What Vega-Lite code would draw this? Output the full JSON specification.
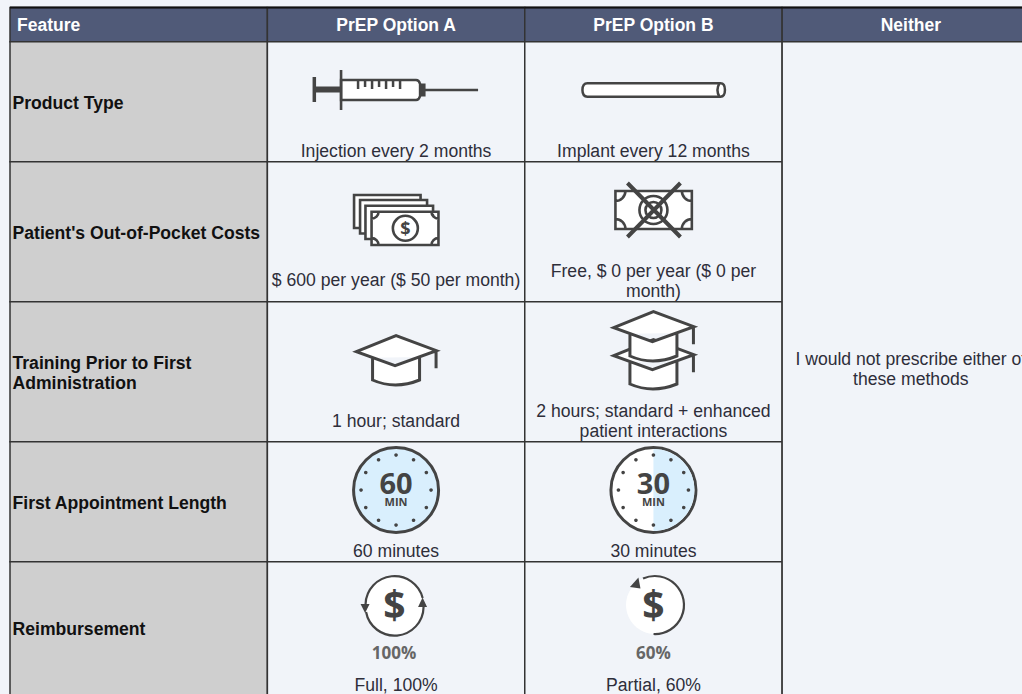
{
"$schema":"https://vega.github.io/schema/vega-lite/v6.json",
"width":1022,"height":694,"padding":0,"autosize":{"type":"none"},
"background":"#f1f4f9",
"config":{"view":{"stroke":null}},
"datasets":{
"cells":[
{"col":"Feature","kind":"header","rowTop":7.5,"rowBottom":41.7},
{"col":"PrEP Option A","kind":"header","rowTop":7.5,"rowBottom":41.7},
{"col":"PrEP Option B","kind":"header","rowTop":7.5,"rowBottom":41.7},
{"col":"Neither","kind":"header","rowTop":7.5,"rowBottom":41.7},
{"col":"Feature","kind":"feature","rowTop":41.7,"rowBottom":161.7},
{"col":"Feature","kind":"feature","rowTop":161.7,"rowBottom":301.7},
{"col":"Feature","kind":"feature","rowTop":301.7,"rowBottom":441.7},
{"col":"Feature","kind":"feature","rowTop":441.7,"rowBottom":561.7},
{"col":"Feature","kind":"feature","rowTop":561.7,"rowBottom":720},
{"col":"PrEP Option A","kind":"option","rowTop":41.7,"rowBottom":161.7},
{"col":"PrEP Option A","kind":"option","rowTop":161.7,"rowBottom":301.7},
{"col":"PrEP Option A","kind":"option","rowTop":301.7,"rowBottom":441.7},
{"col":"PrEP Option A","kind":"option","rowTop":441.7,"rowBottom":561.7},
{"col":"PrEP Option A","kind":"option","rowTop":561.7,"rowBottom":720},
{"col":"PrEP Option B","kind":"option","rowTop":41.7,"rowBottom":161.7},
{"col":"PrEP Option B","kind":"option","rowTop":161.7,"rowBottom":301.7},
{"col":"PrEP Option B","kind":"option","rowTop":301.7,"rowBottom":441.7},
{"col":"PrEP Option B","kind":"option","rowTop":441.7,"rowBottom":561.7},
{"col":"PrEP Option B","kind":"option","rowTop":561.7,"rowBottom":720},
{"col":"Neither","kind":"option","rowTop":41.7,"rowBottom":720}
],
"texts":[
{"role":"headL","col":"Feature","label":"Feature","textY":30.5},
{"role":"head","col":"PrEP Option A","label":"PrEP Option A","textY":30.5},
{"role":"head","col":"PrEP Option B","label":"PrEP Option B","textY":30.5},
{"role":"head","col":"Neither","label":"Neither","textY":30.5},
{"role":"feature","col":"Feature","label":"Product Type","textY":108.5},
{"role":"feature","col":"Feature","label":"Patient's Out-of-Pocket Costs","textY":238.5},
{"role":"feature","col":"Feature","label":"Training Prior to First\nAdministration","textY":368.5},
{"role":"feature","col":"Feature","label":"First Appointment Length","textY":508.5},
{"role":"feature","col":"Feature","label":"Reimbursement","textY":635},
{"role":"cell","col":"PrEP Option A","label":"Injection every 2 months","textY":156.7},
{"role":"cell","col":"PrEP Option B","label":"Implant every 12 months","textY":156.7},
{"role":"cell","col":"PrEP Option A","label":"$ 600 per year ($ 50 per month)","textY":286.2},
{"role":"cell","col":"PrEP Option B","label":"Free, $ 0 per year ($ 0 per\nmonth)","textY":276.7},
{"role":"cell","col":"PrEP Option A","label":"1 hour; standard","textY":426.7},
{"role":"cell","col":"PrEP Option B","label":"2 hours; standard + enhanced\npatient interactions","textY":416.7},
{"role":"cell","col":"PrEP Option A","label":"60 minutes","textY":556.7},
{"role":"cell","col":"PrEP Option B","label":"30 minutes","textY":556.7},
{"role":"cell","col":"PrEP Option A","label":"Full, 100%","textY":690.7},
{"role":"cell","col":"PrEP Option B","label":"Partial, 60%","textY":690.7},
{"role":"cell","col":"Neither","label":"I would not prescribe either of\nthese methods","textY":364.7},
{"role":"clockNum","col":"PrEP Option A","label":"60","textY":493.5},
{"role":"clockNum","col":"PrEP Option B","label":"30","textY":493.5},
{"role":"clockMin","col":"PrEP Option A","label":"MIN","textY":506},
{"role":"clockMin","col":"PrEP Option B","label":"MIN","textY":506},
{"role":"dollarA","col":"PrEP Option A","label":"$","textY":619},
{"role":"dollarB","col":"PrEP Option B","label":"$","textY":619},
{"role":"pctA","col":"PrEP Option A","label":"100%","textY":659},
{"role":"pctB","col":"PrEP Option B","label":"60%","textY":659},
{"role":"billDollar","col":"PrEP Option A","label":"$","textY":234.5}
],
"icons":[
{"icon":"syringe","col":"PrEP Option A","cy":90},
{"icon":"implant","col":"PrEP Option B","cy":90},
{"icon":"bills","col":"PrEP Option A","cy":220},
{"icon":"noBill","col":"PrEP Option B","cy":210},
{"icon":"cap","col":"PrEP Option A","cy":360},
{"icon":"cap","col":"PrEP Option B","cy":364},
{"icon":"cap","col":"PrEP Option B","cy":336},
{"icon":"clockFull","col":"PrEP Option A","cy":490},
{"icon":"clockHalf","col":"PrEP Option B","cy":490},
{"icon":"cycleFull","col":"PrEP Option A","cy":605},
{"icon":"cyclePart","col":"PrEP Option B","cy":605}
]
},
"encoding":{
"x":{"field":"col","type":"nominal","axis":null,"scale":{"type":"band","domain":["Feature","PrEP Option A","PrEP Option B","Neither"],"range":[10,1039.5],"paddingInner":0,"paddingOuter":0}},
"y":{"field":"cy","type":"quantitative","axis":null,"scale":{"domain":[0,694],"range":[0,694]}}
},
"layer":[
{"data":{"name":"cells"},"mark":{"type":"rect","stroke":"#333","strokeWidth":1.5},
 "encoding":{"y":{"field":"rowTop","type":"quantitative"},"y2":{"field":"rowBottom"},
 "color":{"field":"kind","type":"nominal","legend":null,"scale":{"domain":["header","feature","option"],"range":["#505a78","#cfcfcf","#f1f4f9"]}}}},
{"data":{"name":"cells"},"transform":[{"filter":"datum.kind==='header'"}],"mark":{"type":"rect","stroke":"#111","strokeWidth":2,"fill":"#111"},
 "encoding":{"y":{"field":"rowTop","type":"quantitative"},"y2":{"field":"rowTop"}}},

{"data":{"name":"texts"},"transform":[{"filter":"datum.role==='headL'"}],"mark":{"type":"text","align":"left","baseline":"alphabetic","dx":7,"font":"Liberation Sans","fontWeight":"bold","fontSize":17.5,"fill":"#fff"},
 "encoding":{"x":{"field":"col","type":"nominal","bandPosition":0},"y":{"field":"textY","type":"quantitative"},"text":{"field":"label"}}},
{"data":{"name":"texts"},"transform":[{"filter":"datum.role==='head'"}],"mark":{"type":"text","align":"center","baseline":"alphabetic","font":"Liberation Sans","fontWeight":"bold","fontSize":17.5,"fill":"#fff"},
 "encoding":{"y":{"field":"textY","type":"quantitative"},"text":{"field":"label"}}},
{"data":{"name":"texts"},"transform":[{"filter":"datum.role==='feature'"}],"mark":{"type":"text","align":"left","baseline":"alphabetic","dx":2.5,"font":"Liberation Sans","fontWeight":"bold","fontSize":17.6,"fill":"#111","lineBreak":"\n","lineHeight":20},
 "encoding":{"x":{"field":"col","type":"nominal","bandPosition":0},"y":{"field":"textY","type":"quantitative"},"text":{"field":"label"}}},
{"data":{"name":"texts"},"transform":[{"filter":"datum.role==='cell'"}],"mark":{"type":"text","align":"center","baseline":"alphabetic","font":"Liberation Sans","fontSize":17.6,"fill":"#2e2e3a","lineBreak":"\n","lineHeight":20},
 "encoding":{"y":{"field":"textY","type":"quantitative"},"text":{"field":"label"}}},

{"data":{"name":"icons"},"transform":[{"filter":"datum.icon==='syringe'"}],"mark":{"type":"point","size":4,"opacity":1,"filled":true,"fill":"#fff","stroke":"#444","strokeWidth":2.5,"shape":"M-55 -10 H20 Q23 -10 24 -6 V6 Q23 10 20 10 H-55 Z M-38 -10 V-1 M-31 -10 V-3 M-24 -10 V-1 M-17 -10 V-3 M-10 -10 V-1 M-3 -10 V-3 M4 -10 V-1"},
 "encoding":{"y":{"field":"cy","type":"quantitative"}}},
{"data":{"name":"icons"},"transform":[{"filter":"datum.icon==='syringe'"}],"mark":{"type":"point","size":4,"opacity":1,"filled":true,"fill":"#444","strokeWidth":0,"shape":"M-83.5 -13 H-80 V12 H-83.5 Z M-81 -3.5 H-55 V2.5 H-81 Z M-56.3 -20 H-53.7 V20 H-56.3 Z M23 -6.5 H29.5 V6.5 H23 Z M29 -1.2 H82 V1.2 H29 Z"},
 "encoding":{"y":{"field":"cy","type":"quantitative"}}},
{"data":{"name":"icons"},"transform":[{"filter":"datum.icon==='implant'"}],"mark":{"type":"point","size":4,"opacity":1,"filled":true,"fill":"#fff","stroke":"#444","strokeWidth":2.5,"shape":"M-66 -6.7 H67 Q71.5 -6.7 71.5 0 Q71.5 6.7 67 6.7 H-66 Q-71 6.7 -71 0 Q-71 -6.7 -66 -6.7 Z M66 -6.7 Q62 0 66 6.7"},
 "encoding":{"y":{"field":"cy","type":"quantitative"}}},

{"data":{"name":"icons"},"transform":[{"filter":"datum.icon==='bills'"}],"mark":{"type":"point","size":4,"opacity":1,"filled":true,"fill":"#fff","stroke":"#444","strokeWidth":2.6,"shape":"M-42 -25 H24.5 V8 H-42 Z"},
 "encoding":{"y":{"field":"cy","type":"quantitative"}}},
{"data":{"name":"icons"},"transform":[{"filter":"datum.icon==='bills'"}],"mark":{"type":"point","size":4,"opacity":1,"filled":true,"fill":"#fff","stroke":"#444","strokeWidth":2.6,"shape":"M-36 -20 H31 V13.5 H-36 Z"},
 "encoding":{"y":{"field":"cy","type":"quantitative"}}},
{"data":{"name":"icons"},"transform":[{"filter":"datum.icon==='bills'"}],"mark":{"type":"point","size":4,"opacity":1,"filled":true,"fill":"#fff","stroke":"#444","strokeWidth":2.6,"shape":"M-30.6 -14.3 H37 V19 H-30.6 Z"},
 "encoding":{"y":{"field":"cy","type":"quantitative"}}},
{"data":{"name":"icons"},"transform":[{"filter":"datum.icon==='bills'"}],"mark":{"type":"point","size":4,"opacity":1,"filled":true,"fill":"#fff","stroke":"#444","strokeWidth":2.6,"shape":"M-24.5 -8.3 H42.4 V25 H-24.5 Z M-24.5 -1.3 A7 7 0 0 0 -17.5 -8.3 M35.4 -8.3 A7 7 0 0 0 42.4 -1.3 M42.4 18 A7 7 0 0 0 35.4 25 M-17.5 25 A7 7 0 0 0 -24.5 18 M-3.2 8.3 A12.5 12.5 0 1 1 21.8 8.3 A12.5 12.5 0 1 1 -3.2 8.3 Z"},
 "encoding":{"y":{"field":"cy","type":"quantitative"}}},
{"data":{"name":"texts"},"transform":[{"filter":"datum.role==='billDollar'"}],"mark":{"type":"text","align":"center","baseline":"alphabetic","dx":9.3,"font":"Open Sans","fontWeight":"bold","fontSize":18,"fill":"#444"},
 "encoding":{"y":{"field":"textY","type":"quantitative"},"text":{"field":"label"}}},

{"data":{"name":"icons"},"transform":[{"filter":"datum.icon==='noBill'"}],"mark":{"type":"point","size":4,"opacity":1,"filled":true,"fill":"#fff","stroke":"#444","strokeWidth":2.6,"shape":"M-38 -19 H38.4 V19 H-38 Z M-38 -9 A10 10 0 0 0 -28 -19 M28.4 -19 A10 10 0 0 0 38.4 -9 M38.4 9 A10 10 0 0 0 28.4 19 M-28 19 A10 10 0 0 0 -38 9 M-14 0 A14 14 0 1 1 14 0 A14 14 0 1 1 -14 0 Z M-8 0 A8 8 0 1 1 8 0 A8 8 0 1 1 -8 0 Z"},
 "encoding":{"y":{"field":"cy","type":"quantitative"}}},
{"data":{"name":"icons"},"transform":[{"filter":"datum.icon==='noBill'"}],"mark":{"type":"point","size":4,"opacity":1,"filled":false,"stroke":"#444","strokeWidth":4,"shape":"M-26 -27 L27 27 M-26 27 L27 -27"},
 "encoding":{"y":{"field":"cy","type":"quantitative"}}},

{"data":{"name":"icons"},"transform":[{"filter":"datum.icon==='cap'"}],"mark":{"type":"point","size":4,"opacity":1,"filled":true,"fill":"#fff","stroke":"#444","strokeWidth":3,"shape":"M-23.5 -2.3 V20 Q-1 30 23.5 20 V-3 M-39.7 -8.3 L0 -24.3 L40.4 -9.3 L-1 5.7 Z M40 -9 V8.3"},
 "encoding":{"y":{"field":"cy","type":"quantitative"}}},

{"data":{"name":"icons"},"transform":[{"filter":"datum.icon==='clockFull'"}],"mark":{"type":"point","size":4,"opacity":1,"filled":true,"fill":"#d9effd","stroke":"#444","strokeWidth":3,"shape":"M-42.5 0 A42.5 42.5 0 1 1 42.5 0 A42.5 42.5 0 1 1 -42.5 0 Z"},
 "encoding":{"y":{"field":"cy","type":"quantitative"}}},
{"data":{"name":"icons"},"transform":[{"filter":"datum.icon==='clockHalf'"}],"mark":{"type":"point","size":4,"opacity":1,"filled":true,"fill":"#fff","stroke":"#444","strokeWidth":3,"shape":"M-42.5 0 A42.5 42.5 0 1 1 42.5 0 A42.5 42.5 0 1 1 -42.5 0 Z"},
 "encoding":{"y":{"field":"cy","type":"quantitative"}}},
{"data":{"name":"icons"},"transform":[{"filter":"datum.icon==='clockHalf'"}],"mark":{"type":"point","size":4,"opacity":1,"filled":true,"fill":"#d9effd","strokeWidth":0,"shape":"M0 -41 A41 41 0 0 1 0 41 Z"},
 "encoding":{"y":{"field":"cy","type":"quantitative"}}},
{"data":{"name":"icons"},"transform":[{"filter":"datum.icon==='clockFull' || datum.icon==='clockHalf'"}],"mark":{"type":"point","size":4,"opacity":1,"filled":true,"fill":"#444","strokeWidth":0,"shape":"M-1.8 -35 a1.8 1.8 0 1 0 3.6 0 a1.8 1.8 0 1 0 -3.6 0 M15.7 -30.3 a1.8 1.8 0 1 0 3.6 0 a1.8 1.8 0 1 0 -3.6 0 M28.5 -17.5 a1.8 1.8 0 1 0 3.6 0 a1.8 1.8 0 1 0 -3.6 0 M33.2 0 a1.8 1.8 0 1 0 3.6 0 a1.8 1.8 0 1 0 -3.6 0 M28.5 17.5 a1.8 1.8 0 1 0 3.6 0 a1.8 1.8 0 1 0 -3.6 0 M15.7 30.3 a1.8 1.8 0 1 0 3.6 0 a1.8 1.8 0 1 0 -3.6 0 M-1.8 35 a1.8 1.8 0 1 0 3.6 0 a1.8 1.8 0 1 0 -3.6 0 M-19.3 30.3 a1.8 1.8 0 1 0 3.6 0 a1.8 1.8 0 1 0 -3.6 0 M-32.1 17.5 a1.8 1.8 0 1 0 3.6 0 a1.8 1.8 0 1 0 -3.6 0 M-36.8 0 a1.8 1.8 0 1 0 3.6 0 a1.8 1.8 0 1 0 -3.6 0 M-32.1 -17.5 a1.8 1.8 0 1 0 3.6 0 a1.8 1.8 0 1 0 -3.6 0 M-19.3 -30.3 a1.8 1.8 0 1 0 3.6 0 a1.8 1.8 0 1 0 -3.6 0"},
 "encoding":{"y":{"field":"cy","type":"quantitative"}}},
{"data":{"name":"texts"},"transform":[{"filter":"datum.role==='clockNum'"}],"mark":{"type":"text","align":"center","baseline":"alphabetic","font":"Open Sans","fontWeight":"bold","fontSize":29,"fill":"#444"},
 "encoding":{"y":{"field":"textY","type":"quantitative"},"text":{"field":"label"}}},
{"data":{"name":"texts"},"transform":[{"filter":"datum.role==='clockMin'"}],"mark":{"type":"text","align":"center","baseline":"alphabetic","font":"Open Sans","fontWeight":"bold","fontSize":11,"fill":"#444"},
 "encoding":{"y":{"field":"textY","type":"quantitative"},"text":{"field":"label"}}},

{"data":{"name":"icons"},"transform":[{"filter":"datum.icon==='cycleFull'"}],"mark":{"type":"point","size":4,"opacity":1,"filled":true,"fill":"#fff","strokeWidth":0,"shape":"M-30.5 0 A29 29 0 1 1 27.5 0 A29 29 0 1 1 -30.5 0 Z"},
 "encoding":{"y":{"field":"cy","type":"quantitative"}}},
{"data":{"name":"icons"},"transform":[{"filter":"datum.icon==='cycleFull'"}],"mark":{"type":"point","size":4,"opacity":1,"filled":false,"stroke":"#444","strokeWidth":2.2,"shape":"M-30.5 -1 A29 29 0 0 1 26.6 -7 M27.5 2 A29 29 0 0 1 -30 7"},
 "encoding":{"y":{"field":"cy","type":"quantitative"}}},
{"data":{"name":"icons"},"transform":[{"filter":"datum.icon==='cycleFull'"}],"mark":{"type":"point","size":4,"opacity":1,"filled":true,"fill":"#444","strokeWidth":0,"shape":"M22 2 L26.5 -7.5 L31 2 Z M-35.5 -1 L-26.5 -1 L-31 8 Z"},
 "encoding":{"y":{"field":"cy","type":"quantitative"}}},
{"data":{"name":"icons"},"transform":[{"filter":"datum.icon==='cyclePart'"}],"mark":{"type":"point","size":4,"opacity":1,"filled":true,"fill":"#fff","strokeWidth":0,"shape":"M-27.4 0 A29 29 0 1 1 30.6 0 A29 29 0 1 1 -27.4 0 Z"},
 "encoding":{"y":{"field":"cy","type":"quantitative"}}},
{"data":{"name":"icons"},"transform":[{"filter":"datum.icon==='cyclePart'"}],"mark":{"type":"point","size":4,"opacity":1,"filled":false,"stroke":"#444","strokeWidth":2.2,"shape":"M-10.4 -26.4 A29 29 0 1 1 0.1 29"},
 "encoding":{"y":{"field":"cy","type":"quantitative"}}},
{"data":{"name":"icons"},"transform":[{"filter":"datum.icon==='cyclePart'"}],"mark":{"type":"point","size":4,"opacity":1,"filled":true,"fill":"#444","strokeWidth":0,"shape":"M-23.5 -18 L-15 -27.5 L-13 -16.5 Z"},
 "encoding":{"y":{"field":"cy","type":"quantitative"}}},
{"data":{"name":"texts"},"transform":[{"filter":"datum.role==='dollarA'"}],"mark":{"type":"text","align":"center","baseline":"alphabetic","dx":-1.7,"font":"Open Sans","fontWeight":"bold","fontSize":39,"fill":"#444"},
 "encoding":{"y":{"field":"textY","type":"quantitative"},"text":{"field":"label"}}},
{"data":{"name":"texts"},"transform":[{"filter":"datum.role==='dollarB'"}],"mark":{"type":"text","align":"center","baseline":"alphabetic","font":"Open Sans","fontWeight":"bold","fontSize":39,"fill":"#444"},
 "encoding":{"y":{"field":"textY","type":"quantitative"},"text":{"field":"label"}}},
{"data":{"name":"texts"},"transform":[{"filter":"datum.role==='pctA'"}],"mark":{"type":"text","align":"center","baseline":"alphabetic","dx":-2,"font":"Open Sans","fontWeight":"bold","fontSize":17,"fill":"#666"},
 "encoding":{"y":{"field":"textY","type":"quantitative"},"text":{"field":"label"}}},
{"data":{"name":"texts"},"transform":[{"filter":"datum.role==='pctB'"}],"mark":{"type":"text","align":"center","baseline":"alphabetic","font":"Open Sans","fontWeight":"bold","fontSize":17,"fill":"#666"},
 "encoding":{"y":{"field":"textY","type":"quantitative"},"text":{"field":"label"}}}
]
}
